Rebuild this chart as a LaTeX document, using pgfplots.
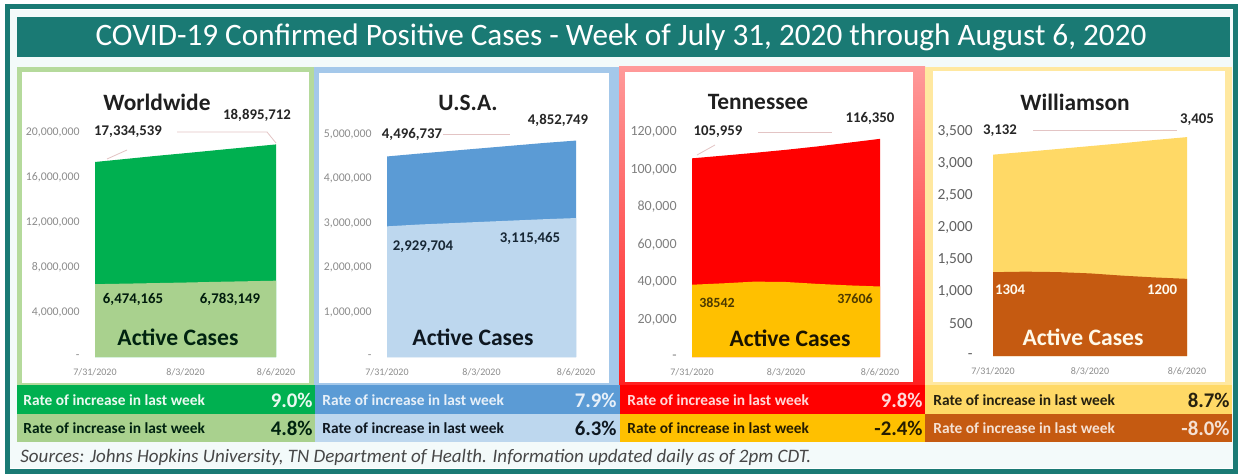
\documentclass[border=0pt]{standalone}
\usepackage{pgfplots}
\pgfplotsset{compat=1.18}
\usepackage{fontspec}
\setmainfont{Carlito}
\definecolor{tealC}{HTML}{1A7A74}
\definecolor{bgC}{HTML}{F3FAFA}
\definecolor{wwD}{HTML}{00B050}
\definecolor{wwL}{HTML}{A9D18E}
\definecolor{wwB}{HTML}{B5DA9C}
\definecolor{usD}{HTML}{5B9BD5}
\definecolor{usL}{HTML}{BDD7EE}
\definecolor{usB}{HTML}{A4C8EA}
\definecolor{tnD}{HTML}{FF0000}
\definecolor{tnL}{HTML}{FFC000}
\definecolor{tnTop}{HTML}{FF9A9A}
\definecolor{tnBot}{HTML}{FF2020}
\definecolor{wmD}{HTML}{FFD966}
\definecolor{wmL}{HTML}{C55A11}
\definecolor{wmB}{HTML}{FFE8A0}
\definecolor{lblC}{HTML}{262626}
\definecolor{leadC}{HTML}{E3C4C4}
\newcommand{\fs}[1]{\fontsize{#1}{#1}\selectfont}
\pgfplotsset{
  panel/.style={
    scale only axis, anchor=south west, xmin=0, xmax=6, ymin=0,
    enlargelimits=false, clip=false, scaled y ticks=false,
    axis line style={draw=none}, major tick length=0pt,
    xtick={0,3,6}, xticklabels={7/31/2020,8/3/2020,8/6/2020},
    tick label style={inner sep=0pt},
    xticklabel style={font=\fs{5}, color=black!45, yshift=-5.5pt},
    yticklabel style={anchor=east, xshift=-7.5pt},
  }
}
\begin{document}
\begin{tikzpicture}[x=0.5pt,y=-0.5pt]
\path[use as bounding box] (0,0) rectangle (1243,476);
\fill[white] (0,0) rectangle (1243,476);
\fill[bgC] (10,10) rectangle (1233,468);
\draw[tealC, line width=2.5pt] (7.5,7) rectangle (1235.5,471);
\fill[tealC] (17,17) rectangle (1230,57);
\node[white, font=\fs{15.6}] at (621,37.5) {COVID-19 Confirmed Positive Cases - Week of July 31, 2020 through August 6, 2020};
% panel frames
\fill[wwB] (17,67) rectangle (314,385);
\fill[white] (22,72) rectangle (309,383);
\fill[usB] (314,67) rectangle (619,385);
\fill[white] (319,73) rectangle (609,383);
\shade[top color=tnTop, bottom color=tnBot] (619,67) rectangle (925,385);
\fill[white] (625,72) rectangle (913,382);
\fill[wmB] (925,67) rectangle (1232,385);
\fill[white] (933,71) rectangle (1225,382);
% rate bars
\fill[wwD] (17,385) rectangle (315,414);
\fill[wwL] (17,414) rectangle (315,442);
\fill[usD] (315,385) rectangle (620,414);
\fill[usL] (315,414) rectangle (620,442);
\fill[tnD] (620,385) rectangle (925,414);
\fill[tnL] (620,414) rectangle (925,442);
\fill[wmD] (925,385) rectangle (1232,414);
\fill[wmL] (925,414) rectangle (1232,442);

% ---------------- Worldwide
\begin{axis}[panel, at={(47.5pt,-178.5pt)}, width=90.5pt, height=112.5pt,
  ymax=20000000, ytick={0,4000000,8000000,12000000,16000000,20000000},
  yticklabels={{-\hspace{3.5pt}},{4,000,000},{8,000,000},{12,000,000},{16,000,000},{20,000,000}},
  yticklabel style={font=\fs{5.9}, color=black!45}]
\addplot[fill=wwD, draw=none] coordinates {(0,17334539) (1,17600000) (2,17870000) (3,18120000) (4,18380000) (5,18640000) (6,18895712)} \closedcycle;
\addplot[fill=wwL, draw=none] coordinates {(0,6474165) (1,6520000) (2,6570000) (3,6620000) (4,6680000) (5,6730000) (6,6783149)} \closedcycle;
\end{axis}

% ---------------- USA
\begin{axis}[panel, at={(193.5pt,-178.5pt)}, width=94.5pt, height=111.5pt,
  ymax=5000000, ytick={0,1000000,2000000,3000000,4000000,5000000},
  yticklabels={{-\hspace{3.5pt}},{1,000,000},{2,000,000},{3,000,000},{4,000,000},{5,000,000}},
  yticklabel style={font=\fs{5.9}, color=black!45}]
\addplot[fill=usD, draw=none] coordinates {(0,4496737) (1,4560000) (2,4620000) (3,4680000) (4,4740000) (5,4800000) (6,4852749)} \closedcycle;
\addplot[fill=usL, draw=none] coordinates {(0,2929704) (1,2970000) (2,3000000) (3,3030000) (4,3060000) (5,3090000) (6,3115465)} \closedcycle;
\end{axis}

% ---------------- Tennessee
\begin{axis}[panel, at={(346pt,-178.5pt)}, width=94pt, height=112.5pt,
  ymax=120000, ytick={0,20000,40000,60000,80000,100000,120000},
  yticklabels={{-\hspace{3.5pt}},{20,000},{40,000},{60,000},{80,000},{100,000},{120,000}},
  yticklabel style={font=\fs{7}, color=black!50}]
\addplot[fill=tnD, draw=none] coordinates {(0,105959) (1,107400) (2,108900) (3,110500) (4,112300) (5,114300) (6,116350)} \closedcycle;
\addplot[fill=tnL, draw=none] coordinates {(0,38542) (1,39300) (2,40200) (3,40000) (4,39000) (5,38200) (6,37606)} \closedcycle;
\end{axis}

% ---------------- Williamson
\begin{axis}[panel, at={(496.5pt,-178pt)}, width=97pt, height=112.5pt,
  ymax=3500, ytick={0,500,1000,1500,2000,2500,3000,3500},
  yticklabels={{-\hspace{4pt}},{500},{1,000},{1,500},{2,000},{2,500},{3,000},{3,500}},
  yticklabel style={font=\fs{7.7}, color=black!62, xshift=-2.5pt}]
\addplot[fill=wmD, draw=none] coordinates {(0,3132) (1,3175) (2,3220) (3,3265) (4,3310) (5,3360) (6,3405)} \closedcycle;
\addplot[fill=wmL, draw=none] coordinates {(0,1304) (1,1312) (2,1305) (3,1285) (4,1250) (5,1222) (6,1200)} \closedcycle;
\end{axis}

% ---------------- panel texts
\tikzset{ttl/.style={font=\fs{11.7}\bfseries, text=black!88, inner sep=0pt},
         dl/.style={font=\fs{7.4}\bfseries, text=lblC, inner sep=0pt},
         ac/.style={font=\fs{11.8}\bfseries, inner sep=0pt},
         lead/.style={draw=leadC, line width=0.4pt}}
% Worldwide
\node[ttl] at (157,102) {Worldwide};
\node[dl] at (257,115) {18,895,712};
\node[dl] at (128,132) {17,334,539};
\draw[lead] (177,132) -- (267,132) -- (276,143);
\draw[lead] (127,150) -- (107,159);
\node[dl, text=black!75!wwD!60!black] at (133,299) {6,474,165};
\node[dl, text=black!75!wwD!60!black] at (230,299) {6,783,149};
\node[ac, text=black!80!wwD] at (178,337) {Active Cases};
% USA
\node[ttl] at (468,103) {U.S.A.};
\node[dl] at (558,120) {4,852,749};
\node[dl] at (412,134) {4,496,737};
\draw[lead] (443,134) -- (510,134);
\node[dl, text=black!75!usD] at (423,247) {2,929,704};
\node[dl, text=black!75!usD] at (530,238) {3,115,465};
\node[ac, text=black!85!usD] at (473,337) {Active Cases};
% Tennessee
\node[ttl] at (758,102) {Tennessee};
\node[dl] at (870,118) {116,350};
\node[dl] at (718,132) {105,959};
\draw[lead] (758,132) -- (832,132);
\draw[lead] (715,145) -- (697,155);
\node[dl, font=\fs{7}\bfseries, text=black!70!tnL] at (717,303) {38542};
\node[dl, font=\fs{7}\bfseries, text=black!70!tnL] at (855,299) {37606};
\node[ac, text=black!90!tnL] at (790,338) {Active Cases};
% Williamson
\node[ttl] at (1075,102) {Williamson};
\node[dl] at (1197,120) {3,405};
\node[dl] at (1000,131) {3,132};
\draw[lead] (1033,130) -- (1177,130);
\node[dl, text=white!90!wmD] at (1010,290) {1304};
\node[dl, text=white!90!wmD] at (1162,290) {1200};
\node[ac, text=white!85!wmD] at (1083,337) {Active Cases};

% ---------------- rate texts
\tikzset{rt/.style={font=\fs{7.7}\bfseries, inner sep=0pt, anchor=west},
         rv/.style={font=\fs{10.4}\bfseries, inner sep=0pt, anchor=east}}
\node[rt, text=white!92!wwD] at (23,400) {Rate of increase in last week};
\node[rv, text=white!92!wwD] at (313,400) {9.0\%};
\node[rt, text=black!80!wwD] at (23,428) {Rate of increase in last week};
\node[rv, text=black!80!wwD] at (313,428) {4.8\%};
\node[rt, text=white!85!usD] at (322,400) {Rate of increase in last week};
\node[rv, text=white!85!usD] at (617,400) {7.9\%};
\node[rt, text=black!85!usD] at (322,428) {Rate of increase in last week};
\node[rv, text=black!85!usD] at (617,428) {6.3\%};
\node[rt, text=white!85!tnD] at (627,400) {Rate of increase in last week};
\node[rv, text=white!85!tnD] at (923,400) {9.8\%};
\node[rt, text=black!85!tnL] at (627,428) {Rate of increase in last week};
\node[rv, text=black!85!tnL] at (923,428) {-2.4\%};
\node[rt, text=black!85!wmD] at (933,400) {Rate of increase in last week};
\node[rv, text=black!85!wmD] at (1230,400) {8.7\%};
\node[rt, text=white!82!wmL] at (933,428) {Rate of increase in last week};
\node[rv, text=white!82!wmL] at (1230,428) {-8.0\%};

\node[font=\fs{9.5}\itshape, text=black!72, inner sep=0pt, anchor=west] at (20,457) {Sources: Johns Hopkins University, TN Department of Health. Information updated daily as of 2pm CDT.};
\end{tikzpicture}
\end{document}
